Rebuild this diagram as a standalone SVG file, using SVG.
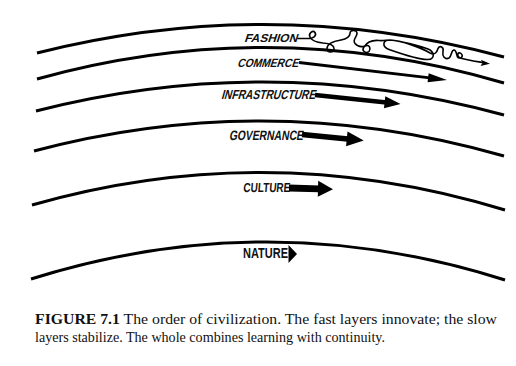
<svg xmlns="http://www.w3.org/2000/svg" width="516" height="366" viewBox="0 0 516 366">
<style>
.band{fill:none;stroke:#000;stroke-width:3;stroke-linecap:butt}
.lbl{font-family:"Liberation Sans",Arial,sans-serif;font-weight:bold;fill:#111}
.cap{font-family:"Liberation Serif","Times New Roman",serif;font-size:14.5px;fill:#111}
.arr{fill:#000}
.sq{fill:none;stroke:#000;stroke-width:1.6;stroke-linecap:round;stroke-linejoin:round}
</style>
<rect width="516" height="366" fill="#fff"/>
<g id="bands">
<path class="band" d="M37,53 Q270,-6 504,57"/>
<path class="band" d="M37,79 Q270,14 504,83"/>
<path class="band" d="M36,111 Q270,51 504,115"/>
<path class="band" d="M34,151 Q269,88.5 504,156"/>
<path class="band" d="M32,205 Q268,137.5 505,210"/>
<path class="band" d="M31,279 Q268,204.5 505,280"/>
</g>
<g id="fashion">
<text class="lbl" font-size="11.5" transform="translate(244,42) skewX(-18)" textLength="53" lengthAdjust="spacingAndGlyphs">FASHION</text>
<path class="sq" d="M298,38.5 L308,38.5 C313,38.5 317,36 315,32.5 C313,30 308,33 310,37 C312,41 318,42.5 323,43 C330,43.5 334,45 334,48.5 C334,53 327,53 327,48.5 C327,43 335,41 341,40 C347,39 350,36 350,33.5 C350,29.5 357,29.5 357,33.5 C357,37 352,40 355,43.5 C358,47 362,47 365,46 C370,44 371,49 369,51.5 C366,54 361,51 364,47 C367,42 373,40 379,40.5 C384,41 386,40 390,40 C402,41 420,46 428,49 C435,52 435,59 428,59.5 C420,60 399,53 389,49.5 C382,47 382,40 390,40 C402,41 420,47 430,53 C435,55.5 437,52 438,48.5 C440,45 444,47 443,51.5 C442,56 445,60 449,58 C452,56 451,50 454,50 C457,50 456,56 458,57.5 C461,59 464,56 461,53.5 C458,51 456,56 460,58 C466,60 477,61.5 486,63"/>
<path class="arr" d="M490,63.8 L481,59.8 L482.5,63 L480.5,66 Z"/>
</g>
<g id="commerce">
<text class="lbl" font-size="12" transform="translate(237,67) skewX(-18)" textLength="61" lengthAdjust="spacingAndGlyphs">COMMERCE</text>
<g transform="translate(299,62.5) rotate(6.7)"><rect class="arr" x="0" y="-1.4" width="134" height="2.8"/><path class="arr" d="M130,-4.5 L149,0 L130,4.5 Z"/></g>
</g>
<g id="infrastructure">
<text class="lbl" font-size="13" transform="translate(221,99) skewX(-16)" textLength="94" lengthAdjust="spacingAndGlyphs">INFRASTRUCTURE</text>
<g transform="translate(315,95) rotate(6)"><rect class="arr" x="0" y="-2.2" width="72" height="4.4"/><path class="arr" d="M70,-6 L86,0 L70,6 Z"/></g>
</g>
<g id="governance">
<text class="lbl" font-size="13.5" transform="translate(229,140) skewX(-10)" textLength="74" lengthAdjust="spacingAndGlyphs">GOVERNANCE</text>
<g transform="translate(302,134.5) rotate(5.6)"><rect class="arr" x="0" y="-2.8" width="46" height="5.6"/><path class="arr" d="M45,-7.5 L62,0 L45,7.5 Z"/></g>
</g>
<g id="culture">
<text class="lbl" font-size="13" transform="translate(243,192) skewX(-5)" textLength="47" lengthAdjust="spacingAndGlyphs">CULTURE</text>
<g transform="translate(289,188) rotate(1.5)"><rect class="arr" x="0" y="-3.4" width="30" height="6.8"/><path class="arr" d="M29,-8 L44,0 L29,8 Z"/></g>
</g>
<g id="nature">
<text class="lbl" font-size="15" x="243" y="258" textLength="45" lengthAdjust="spacingAndGlyphs">NATURE</text>
<path class="arr" d="M288.5,245 L297,254 L288.5,263 Z"/>
</g>
<g id="caption">
<text class="cap" x="35" y="324" textLength="462" lengthAdjust="spacingAndGlyphs"><tspan font-weight="bold">FIGURE 7.1</tspan> The order of civilization. The fast layers innovate; the slow</text>
<text class="cap" x="35" y="342" textLength="350" lengthAdjust="spacingAndGlyphs">layers stabilize. The whole combines learning with continuity.</text>
</g>
</svg>
